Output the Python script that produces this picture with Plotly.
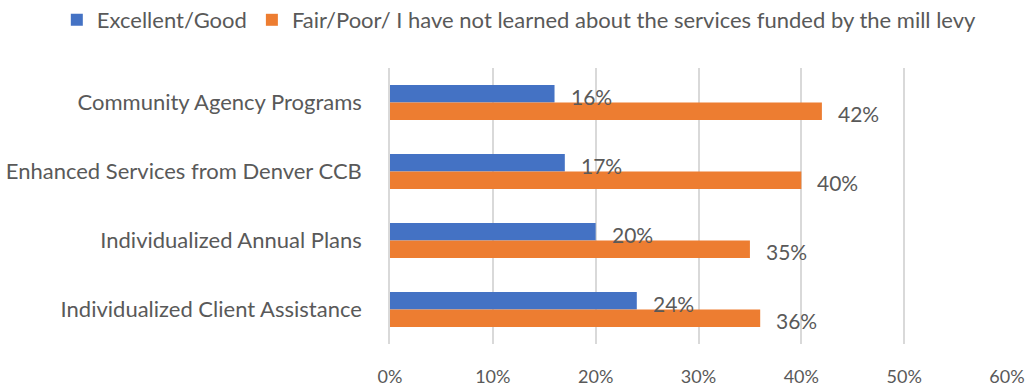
import plotly.graph_objects as go

categories = [
    "Community Agency Programs",
    "Enhanced Services from Denver CCB",
    "Individualized Annual Plans",
    "Individualized Client Assistance",
]
excellent_good = [16, 17, 20, 24]
fair_poor = [42, 40, 35, 36]
tick_vals = [0, 10, 20, 30, 40, 50, 60]
tick_text = ["0%", "10%", "20%", "30%", "40%", "50%", "60%"]

BLUE = "#4472C4"
ORANGE = "#ED7D31"
TEXT = "#595959"
FONT = "Lato"

fig = go.Figure()
fig.add_trace(go.Bar(
    y=categories, x=excellent_good, orientation="h",
    name="Excellent/Good", marker=dict(color=BLUE, line=dict(width=0)),
))
fig.add_trace(go.Bar(
    y=categories, x=fair_poor, orientation="h",
    name="Fair/Poor/ I have not learned about the services funded by the mill levy",
    marker=dict(color=ORANGE, line=dict(width=0)),
))

# value labels to the right of each bar
annotations = []
for cat, v in zip(categories, excellent_good):
    annotations.append(dict(x=v, y=cat, text=f"{v}%", showarrow=False,
                            xanchor="left", xshift=14, yshift=6,
                            font=dict(size=21, color=TEXT, family=FONT)))
for cat, v in zip(categories, fair_poor):
    annotations.append(dict(x=v, y=cat, text=f"{v}%", showarrow=False,
                            xanchor="left", xshift=14, yshift=-11,
                            font=dict(size=21, color=TEXT, family=FONT)))

fig.update_layout(
    width=1027, height=388,
    margin=dict(l=390, r=20, t=68, b=44, autoexpand=False),
    paper_bgcolor="white", plot_bgcolor="white",
    barmode="group", bargap=0.49, bargroupgap=0,
    font=dict(family=FONT, color=TEXT, size=18),
    annotations=annotations,
    legend=dict(
        orientation="h", xref="paper", yref="paper",
        x=-0.540, y=1.25, xanchor="left", yanchor="top",
        font=dict(size=22, color=TEXT, family=FONT),
        itemwidth=30, traceorder="normal",
        bgcolor="rgba(0,0,0,0)",
    ),
    xaxis=dict(
        range=[0, 60], tickvals=tick_vals, ticktext=tick_text,
        showgrid=True, gridcolor="#D9D9D9", gridwidth=1.5,
        zeroline=False, showline=False, automargin=False,
        ticks="", ticklabelstandoff=20,
        tickfont=dict(size=18, color=TEXT, family=FONT),
        fixedrange=True,
    ),
    yaxis=dict(
        categoryorder="array", categoryarray=categories,
        autorange="reversed", automargin=False,
        showline=True, linecolor="#D9D9D9", linewidth=1.5,
        showgrid=False, ticks="", ticklabelstandoff=22,
        tickfont=dict(size=22, color=TEXT, family=FONT),
    ),
)

fig.write_html("out.html")
